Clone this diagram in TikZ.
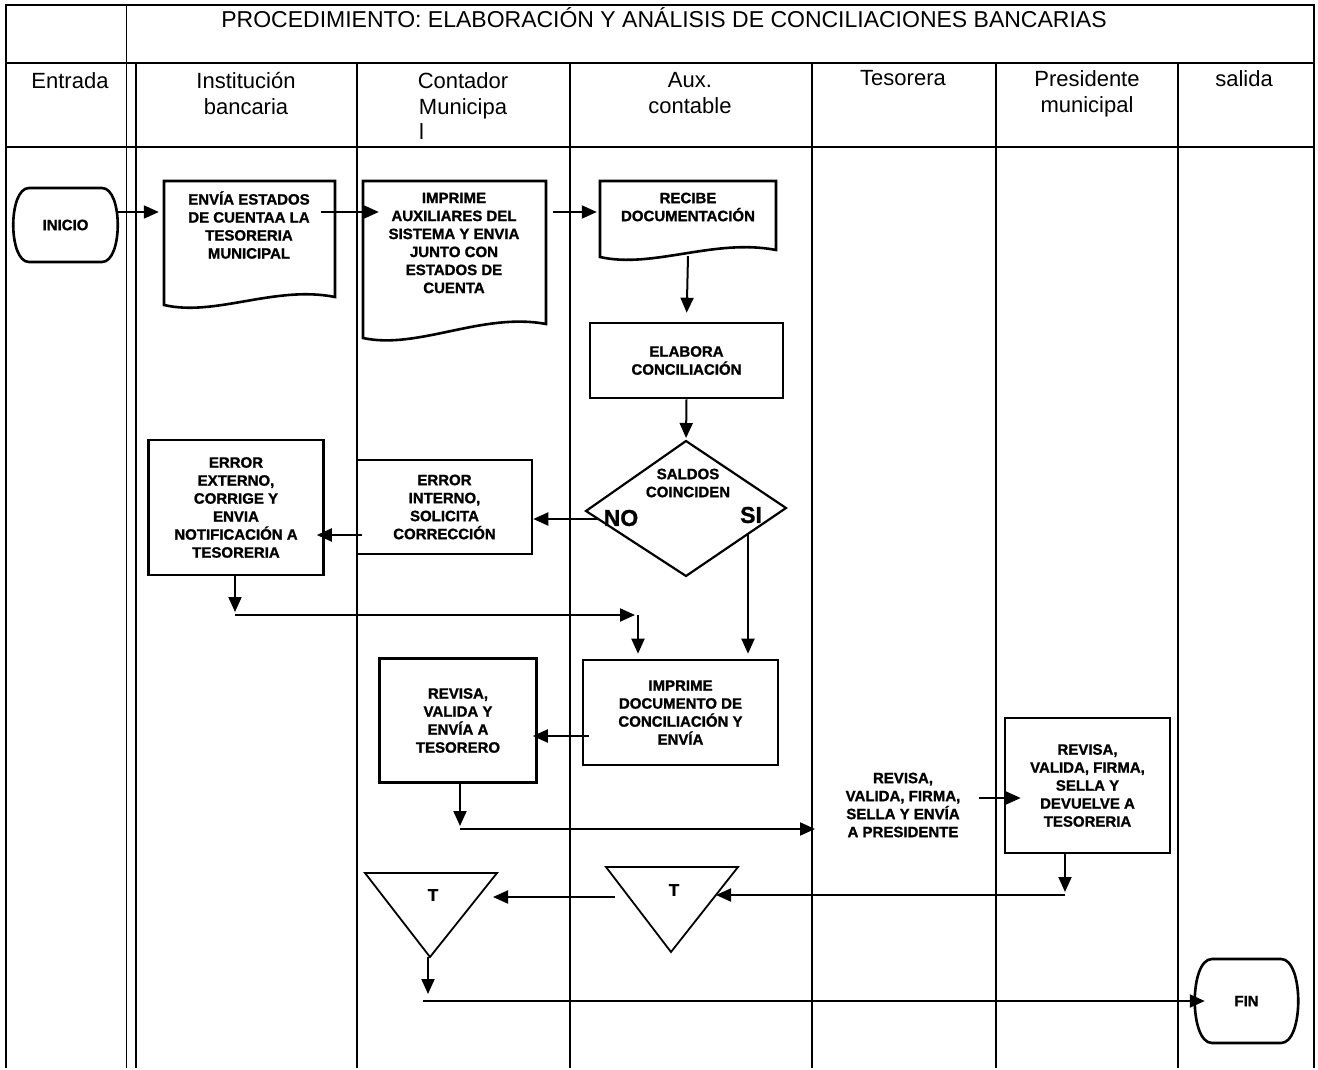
\documentclass[tikz,border=0pt]{standalone}
\usepackage{fontspec}
\setmainfont{Liberation Sans}
\newfontfamily\heavyfont{Liberation Sans Bold}[FakeBold=1.2]
\usetikzlibrary{arrows.meta}

% document symbol: flat top, straight sides, wavy bottom
\newcommand\docoutline[5]{%
  \draw[shapeline] (#1,#3) -- (#2,#3) -- (#2,#5)
    .. controls ({#1+0.65*(#2-#1)},{#5-12}) and ({#1+0.3*(#2-#1)},{#4+12}) .. (#1,#4) -- cycle;}
% terminal symbol: flat top and bottom, bulging sides
\newcommand\termoutline[6]{%
  \draw[shapeline] ({#1+#5},#3) -- ({#2-#5},#3)
    .. controls ({#2+#6},#3) and ({#2+#6},#4) .. ({#2-#5},#4)
    -- ({#1+#5},#4)
    .. controls ({#1-#6},#4) and ({#1-#6},#3) .. ({#1+#5},#3) -- cycle;}

\begin{document}
\begin{tikzpicture}[x=1pt,y=-1pt,
  frameline/.style={line width=1.6pt},
  lane/.style={line width=1.6pt},
  shapeline/.style={line width=2.6pt, line join=miter},
  thinshape/.style={line width=1.8pt, line join=miter},
  boxnode/.style={draw, line width=2.6pt, inner sep=0pt},
  ghost/.style={inner sep=0pt},
  steptext/.style={align=center, font=\heavyfont\fontsize{15}{18}\selectfont, inner sep=0pt},
  termtext/.style={align=center, font=\heavyfont\fontsize{15}{17}\selectfont, inner sep=0pt},
  headtext/.style={align=center, font=\fontsize{22}{26}\selectfont, inner sep=0pt, anchor=north},
  flow/.style={line width=2pt, -{Triangle[length=15pt,width=13pt]}},
]
\useasboundingbox (0,0) rectangle (1318,1070);

% ---- frame and swimlanes ----
\draw[frameline] (6,1068) -- (6,5) -- (1314,5) -- (1314,1068);
\draw[frameline] (6,63) -- (1314,63);
\draw[frameline] (6,147) -- (1314,147);
\draw[line width=1pt] (126,5) -- (126,1068);
\foreach \x in {136,357,570,812,996,1178} \draw[lane] (\x,63) -- (\x,1068);

% ---- title and lane headers ----
\node[font=\fontsize{23}{27}\selectfont, anchor=base, inner sep=0pt] (title) at (664,28)
  {PROCEDIMIENTO: ELABORACIÓN Y ANÁLISIS DE CONCILIACIONES BANCARIAS};
\node[headtext] (hent)  at (70,72)   {Entrada};
\node[headtext] (hinst) at (246,72)  {Institución\\bancaria};
\node[headtext] (hcont) at (463,72)  {Contador\\Municipa};
\node[headtext, anchor=north west] (hcontl) at (419,123) {l};
\node[headtext] (haux)  at (690,72)  {Aux.\\contable};
\node[headtext] (htes)  at (903,70)  {Tesorera};
\node[headtext] (hpres) at (1087,70) {Presidente\\municipal};
\node[headtext] (hsal)  at (1244,70) {salida};

% ---- start ----
\termoutline{13}{118}{188}{262}{16}{5}
\node[ghost, termtext, minimum width=105pt, minimum height=74pt] (inicio) at (65.5,225) {INICIO};

% ---- documents ----
\docoutline{164}{335}{181}{305}{297}
\node[ghost, minimum width=171pt, minimum height=124pt] (envia) at (249.5,243) {};
\node[steptext] (enviatxt) at (249,225) {ENVÍA ESTADOS\\DE CUENTAA LA\\TESORERIA\\MUNICIPAL};

\docoutline{363}{546}{181}{338}{324}
\node[ghost, minimum width=183pt, minimum height=157pt] (imprime) at (454.5,259.5) {};
\node[steptext] (imprtxt) at (454,243) {IMPRIME\\AUXILIARES DEL\\SISTEMA Y ENVIA\\JUNTO CON\\ESTADOS DE\\CUENTA};

\docoutline{600}{776}{181}{257}{250}
\node[ghost, minimum width=176pt, minimum height=75pt] (recibe) at (688,218.5) {};
\node[steptext] (rectxt) at (688,207) {RECIBE\\DOCUMENTACIÓN};

% ---- process boxes ----
\node[boxnode, steptext, minimum width=193pt, minimum height=75pt] (elabora) at (686.5,360.5) {ELABORA\\CONCILIACIÓN};
\node[boxnode, steptext, minimum width=175pt, minimum height=94pt] (errint) at (444.5,507) {ERROR\\INTERNO,\\SOLICITA\\CORRECCIÓN};
\node[boxnode, steptext, minimum width=175pt, minimum height=135pt] (errext) at (236,507.5) {ERROR\\EXTERNO,\\CORRIGE Y\\ENVIA\\NOTIFICACIÓN A\\TESORERIA};
\node[boxnode, steptext, minimum width=195pt, minimum height=105pt] (imprdoc) at (680.5,712.5) {IMPRIME\\DOCUMENTO DE\\CONCILIACIÓN Y\\ENVÍA};
\node[boxnode, steptext, minimum width=157pt, minimum height=124pt] (revisa) at (458,720.5) {REVISA,\\VALIDA Y\\ENVÍA A\\TESORERO};
\node[steptext] (tes) at (903,805) {REVISA,\\VALIDA, FIRMA,\\SELLA Y ENVÍA\\A PRESIDENTE};
\node[boxnode, steptext, minimum width=165pt, minimum height=135pt] (pres) at (1087.5,785.5) {REVISA,\\VALIDA, FIRMA,\\SELLA Y\\DEVUELVE A\\TESORERIA};

% ---- decision ----
\coordinate (dtop) at (686,441);
\coordinate (dright) at (786,508);
\coordinate (dbot) at (686,576);
\coordinate (dleft) at (586,511);
\draw[shapeline, line width=2.2pt] (dtop) -- (dright) -- (dbot) -- (dleft) -- cycle;
\node[align=center, font=\heavyfont\fontsize{15}{18}\selectfont, inner sep=0pt] (dectxt) at (688,483) {SALDOS\\COINCIDEN};
\node[font=\heavyfont\fontsize{23}{25}\selectfont, inner sep=0pt] (no) at (621,518) {NO};
\node[font=\heavyfont\fontsize{23}{25}\selectfont, inner sep=0pt] (si) at (751,515) {SI};
\coordinate (dno) at (598,519);
\coordinate (dsi) at (748,534);

% ---- transit files ----
\draw[thinshape] (365,873) -- (497,873) -- (430,957) -- cycle;
\node[font=\heavyfont\fontsize{17}{19}\selectfont, inner sep=0pt] (t1) at (433,895) {T};
\draw[thinshape] (606,867) -- (738,867) -- (671,952) -- cycle;
\node[font=\heavyfont\fontsize{17}{19}\selectfont, inner sep=0pt] (t2) at (674,890) {T};

% ---- end ----
\termoutline{1195}{1298}{959}{1043}{17}{6}
\node[ghost, termtext, minimum width=103pt, minimum height=84pt] (fin) at (1246.5,1001) {FIN};

% ---- connectors ----
\coordinate (row) at (0,212);
\draw[flow, shorten >=5pt] (inicio.east |- row) -- (envia.west |- row);
\draw[flow, shorten <=-14pt, shorten >=-16pt] (envia.east |- row) -- (imprime.west |- row);
\draw[flow, shorten <=7pt, shorten >=3pt] (imprime.east |- row) -- (recibe.west |- row);
\draw[flow, shorten >=9pt] (recibe.south) -- (elabora.north);
\draw[flow, shorten >=3pt] (elabora.south) -- (dtop);

% NO branch
\draw[flow] (dno) -- (dno -| errint.east);
\coordinate (r535) at (0,535);
\draw[flow, shorten <=-6pt, shorten >=-8pt] (errint.west |- r535) -- (errext.east |- r535);
\coordinate (j1) at (235,615);
\coordinate (j2) at (635,615);
\coordinate (j3) at (638,615);
\draw[flow, shorten >=3pt] (errext.south -| j1) -- (j1);
\draw[flow] (j1) -- (j2);
\draw[flow, shorten >=5pt] (j3) -- (j3 |- imprdoc.north);

% SI branch
\draw[flow, shorten >=5pt] (dsi) -- (dsi |- imprdoc.north);

% review and signature
\coordinate (r736) at (0,736);
\draw[flow, shorten <=-7pt, shorten >=-5pt] (imprdoc.west |- r736) -- (revisa.east |- r736);
\coordinate (j4) at (460,829);
\coordinate (tesin) at (815,829);
\draw[flow, shorten >=3pt] (revisa.south -| j4) -- (j4);
\draw[flow] (j4) -- (tesin);
\coordinate (tesout) at (979,798);
\draw[flow, shorten >=-17pt] (tesout) -- (pres.west |- tesout);
\coordinate (j6) at (1065,895);
\coordinate (t2r) at (716,895);
\draw[flow, shorten >=3pt] (pres.south -| j6) -- (j6);
\draw[flow] (j6) -- (t2r);
\coordinate (t2l) at (615,897);
\coordinate (t1r) at (493,897);
\draw[flow] (t2l) -- (t1r);
\coordinate (t1b) at (428,957);
\coordinate (j7) at (428,994);
\coordinate (j8) at (423,1001);
\draw[flow] (t1b) -- (j7);
\draw[flow, shorten >=-10pt] (j8) -- (fin.west |- j8);
\end{tikzpicture}
\end{document}
